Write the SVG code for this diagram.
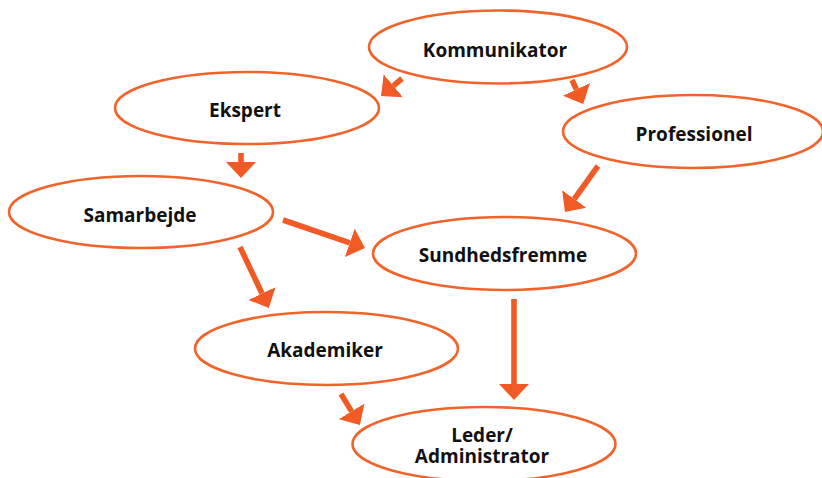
<svg xmlns="http://www.w3.org/2000/svg" width="822" height="478" viewBox="0 0 822 478">
<defs>
<style>
.node ellipse{fill:#fff;stroke:#F0642C;stroke-width:2.6}
.node text{font-family:"Open Sans","Noto Sans","DejaVu Sans",sans-serif;font-weight:700;font-size:19px;fill:#111;text-anchor:middle}
.edges line{stroke:#F15A24;stroke-width:5.6;fill:none;marker-end:url(#ah)}
</style>
<marker id="ah" markerUnits="userSpaceOnUse" viewBox="0 0 16 30" markerWidth="16" markerHeight="30" refX="0" refY="15" orient="auto">
<path d="M0,0 L16,15 L0,30 Z" fill="#F15A24"/>
</marker>
</defs>
<rect width="822" height="478" fill="#fff"/>
<g id="edges" class="edges">
<line x1="402" y1="78.5" x2="393.3" y2="85.8"/>
<line x1="572" y1="80" x2="576.4" y2="89.4"/>
<line x1="241" y1="153" x2="241" y2="162"/>
<line x1="283" y1="220" x2="349.8" y2="242.8"/>
<line x1="240" y1="247" x2="262" y2="293.5"/>
<line x1="598" y1="166" x2="574.3" y2="199"/>
<line x1="514" y1="299" x2="514" y2="384"/>
<line x1="341" y1="394" x2="351.6" y2="411.4"/>
</g>
<g id="kommunikator" class="node"><ellipse cx="498" cy="47" rx="129" ry="36.5"/><text x="495" y="57">Kommunikator</text></g>
<g id="ekspert" class="node"><ellipse cx="247" cy="108" rx="132" ry="36"/><text x="245" y="117">Ekspert</text></g>
<g id="professionel" class="node"><ellipse cx="693" cy="131.5" rx="130" ry="36.5"/><text x="694" y="141">Professionel</text></g>
<g id="samarbejde" class="node"><ellipse cx="141" cy="212" rx="132" ry="36"/><text x="140" y="222">Samarbejde</text></g>
<g id="sundhedsfremme" class="node"><ellipse cx="504.5" cy="253.5" rx="131.5" ry="36.5"/><text x="503" y="262">Sundhedsfremme</text></g>
<g id="akademiker" class="node"><ellipse cx="326.5" cy="348.5" rx="131.5" ry="36.5"/><text x="325" y="357">Akademiker</text></g>
<g id="leder" class="node"><ellipse cx="484" cy="444" rx="131.5" ry="37"/><text x="482" y="442">Leder/<tspan x="482" dy="21">Administrator</tspan></text></g>
</svg>
